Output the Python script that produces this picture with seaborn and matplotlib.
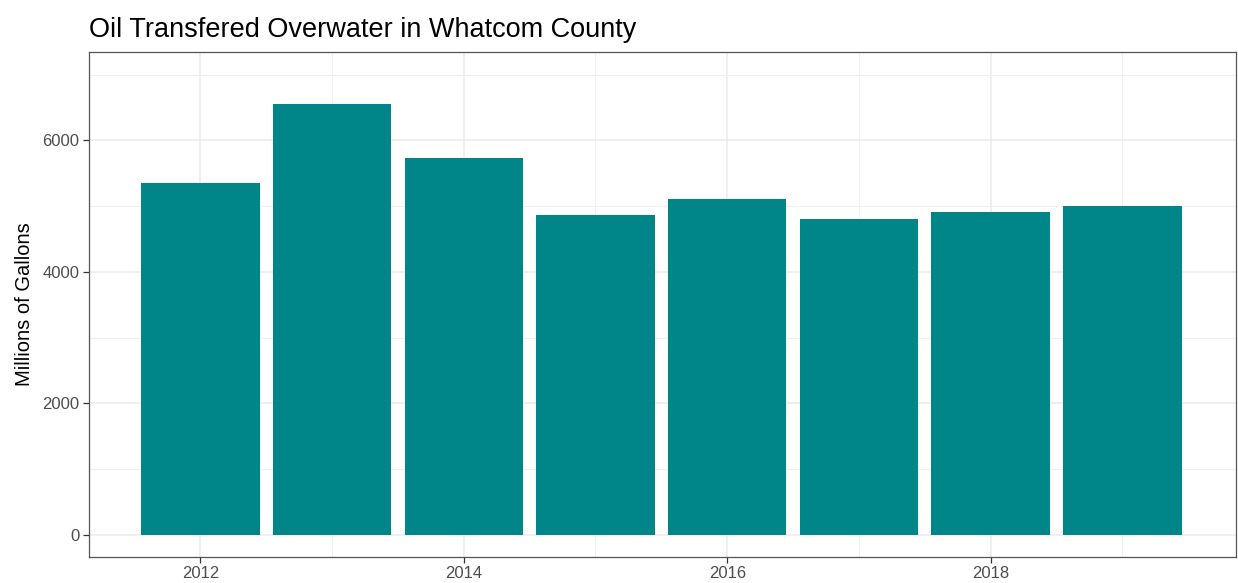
import pandas as pd
import numpy as np
import matplotlib.pyplot as plt
import seaborn as sns
from matplotlib.ticker import MultipleLocator

# Data
years = [2012, 2013, 2014, 2015, 2016, 2017, 2018, 2019]
gallons = [5350, 6550, 5730, 4865, 5105, 4805, 4910, 5000]

df = pd.DataFrame({'Year': years, 'Gallons': gallons})

sns.set_style('white')
plt.rcParams['font.family'] = ['Liberation Sans', 'DejaVu Sans']

fig, ax = plt.subplots(figsize=(12.38, 5.83), dpi=100)
fig.subplots_adjust(left=0.072, right=0.998, top=0.911, bottom=0.045)

sns.barplot(data=df, x='Year', y='Gallons', native_scale=True, width=0.9,
            color='#008589', saturation=1, edgecolor='none', ax=ax, zorder=3)

ax.set_xlim(2011.155, 2019.86)
ax.set_ylim(-333, 7345)

ax.xaxis.set_major_locator(MultipleLocator(2))
ax.xaxis.set_minor_locator(MultipleLocator(1))
ax.yaxis.set_major_locator(MultipleLocator(2000))
ax.yaxis.set_minor_locator(MultipleLocator(1000))
ax.set_xticks([2012, 2014, 2016, 2018])
ax.set_xticklabels(['2012', '2014', '2016', '2018'])

ax.grid(which='major', color='#EBEBEB', linewidth=1.1, zorder=0)
ax.grid(which='minor', color='#F0F0F0', linewidth=0.7, zorder=0)
ax.set_axisbelow(True)

for s in ax.spines.values():
    s.set_color('#555555')
    s.set_linewidth(0.9)
    s.set_visible(True)

ax.tick_params(which='major', length=4, width=0.9, color='#333333',
               labelsize=12, labelcolor='#4D4D4D', pad=3, bottom=True, left=True)
ax.tick_params(which='minor', length=0)

ax.set_xlabel('')
ax.set_ylabel('Millions of Gallons', fontsize=14.5, color='black', labelpad=6)
ax.set_title('Oil Transfered Overwater in Whatcom County', fontsize=19.5,
             loc='left', pad=11, color='black')

plt.savefig('out.png', dpi=100)
plt.close()
